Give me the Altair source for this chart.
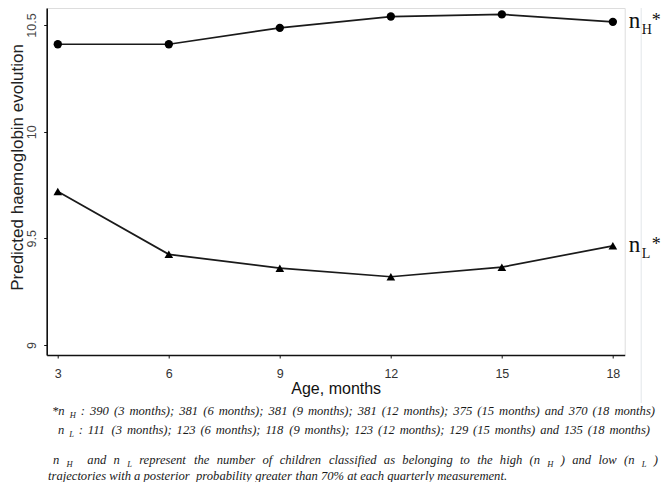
import altair as alt
import pandas as pd

# ---- data ----
months = [3, 6, 9, 12, 15, 18]
high_hb = [10.41, 10.41, 10.487, 10.54, 10.55, 10.515]
low_hb = [9.72, 9.425, 9.36, 9.32, 9.365, 9.465]
y_ticks = [9, 9.5, 10, 10.5]

df = pd.DataFrame({
    "age": months * 2,
    "hb": high_hb + low_hb,
    "group": ["high"] * len(months) + ["low"] * len(months),
})
df_high = df[df.group == "high"]
df_low = df[df.group == "low"]

W, H = 578, 347
PAD_L, PAD_T = 38.7, 0
XDOM = [2.7, 18.32]
YDOM = [8.953, 10.58]

x = alt.X("age:Q", scale=alt.Scale(domain=XDOM, nice=False, zero=False),
          axis=alt.Axis(values=months, title="Age, months", grid=False,
                        domainColor="#111111", domainWidth=1.6,
                        tickColor="#111111", tickSize=3, tickWidth=1,
                        labelFont="Liberation Sans", labelFontSize=12.5,
                        labelColor="#333333", labelPadding=9,
                        titleFont="Liberation Sans", titleFontSize=16,
                        titleFontWeight="normal", titleColor="#111111",
                        titlePadding=1))
y = alt.Y("hb:Q", scale=alt.Scale(domain=YDOM, nice=False, zero=False),
          axis=alt.Axis(values=y_ticks, format="~g", title="Predicted haemoglobin evolution",
                        grid=False, domainColor="#111111", domainWidth=1.6,
                        tickColor="#111111", tickSize=3, tickWidth=1,
                        labelFont="Liberation Sans", labelFontSize=12.5,
                        labelColor="#444444", labelAngle=270,
                        labelAlign="center", labelBaseline="bottom",
                        labelPadding=5,
                        titleFont="Liberation Sans", titleFontSize=17,
                        titleFontWeight="normal", titleColor="#222222",
                        titleAngle=270, titleAlign="center", titleBaseline="bottom",
                        titleX=-20, titleY=159))

base = alt.Chart(df)
line = base.mark_line(color="#1a1a1a", strokeWidth=1.7).encode(
    x=x, y=y, detail="group:N")
pts_h = alt.Chart(df_high).mark_point(shape="circle", filled=True, opacity=1,
                                       color="#000000", size=70).encode(x="age:Q", y="hb:Q")
pts_l = alt.Chart(df_low).mark_point(shape="triangle-up", filled=True, opacity=1,
                                      color="#000000", size=75).encode(x="age:Q", y="hb:Q")

# ---- right-hand series labels n_H*, n_L* ----
last_h = df_high.tail(1)
last_l = df_low.tail(1)
lab = []
for d, sub in ((last_h, "H"), (last_l, "L")):
    c = alt.Chart(d)
    lab.append(c.mark_text(text="n", font="Liberation Serif", fontSize=23,
                           align="left", baseline="alphabetic", dx=16, dy=6,
                           color="#111111").encode(x="age:Q", y="hb:Q"))
    lab.append(c.mark_text(text=sub, font="Liberation Serif", fontSize=14,
                           align="left", baseline="alphabetic", dx=29, dy=12,
                           color="#111111").encode(x="age:Q", y="hb:Q"))
    lab.append(c.mark_text(text="*", font="Liberation Serif", fontSize=18,
                           align="left", baseline="alphabetic", dx=39, dy=4,
                           color="#111111").encode(x="age:Q", y="hb:Q"))

# faint vertical separator line at right
sep = alt.Chart(pd.DataFrame({"a": [0]})).mark_rule(color="#e3e6ea", strokeWidth=1).encode(
    x=alt.value(594.5), y=alt.value(-10), y2=alt.value(395))

# ---- footnotes (italic serif, justified, with subscripts) ----
TI = {" ": 250, "(": 333, ")": 333, "*": 500, ",": 250, ".": 250, ":": 333,
      ";": 333, "%": 833, "H": 722, "L": 556, "a": 500, "b": 500, "c": 444,
      "d": 500, "e": 444, "f": 278, "g": 500, "h": 500, "i": 278, "j": 278,
      "k": 444, "l": 278, "m": 722, "n": 500, "o": 500, "p": 500, "q": 500,
      "r": 389, "s": 389, "t": 278, "u": 500, "v": 444, "w": 667, "x": 444,
      "y": 444, "z": 389}


def em(s):
    return sum(TI.get(ch, 500) for ch in s) / 1000.0


line1 = [("*n ", 0), ("H", 1), (" : 390 (3 months); 381 (6 months); 381 (9 months); 381 (12 months); 375 (15 months) and 370 (18 months)", 0)]
line2 = [("n ", 0), ("L", 1), (" : 111 (3 months); 123 (6 months); 118 (9 months); 123 (12 months); 129 (15 months) and 135 (18 months)", 0)]
line3 = [("n ", 0), ("H", 1), ("  and n ", 0), ("L", 1), (" represent the number of children classified as belonging to the high (n ", 0),
         ("H", 1), (" ) and low (n ", 0), ("L", 1), (" )", 0)]
line4 = [("trajectories with a posterior  probability greater than 70% at each quarterly measurement.", 0)]

FS = 12.6
SUB = 8.5
# (segments, x start, x end (None = not justified), baseline y) in page pixels
foot_lines = [(line1, 52, 655, 415), (line2, 58, 650, 434), (line3, 53, 658, 464), (line4, 48, None, 480)]

notes = []
for segs, x0, x1, yb in foot_lines:
    items = []  # (kind, text, is_sub)
    for txt, is_sub in segs:
        if is_sub:
            items.append(("w", txt, 1))
        else:
            parts = txt.split(" ")
            for i, p in enumerate(parts):
                if i > 0:
                    items.append(("g", " ", 0))
                if p:
                    items.append(("w", p, 0))
    nat = sum(em(t) * (SUB if s else FS) for k, t, s in items)
    gaps = sum(1 for k, t, s in items if k == "g")
    extra = 0.0 if x1 is None else (x1 - x0 - nat) / max(gaps, 1)
    cx = x0
    for k, t, s in items:
        fs = SUB if s else FS
        if k == "g":
            cx += em(" ") * FS + extra
            continue
        notes.append(alt.Chart(pd.DataFrame({"a": [0]})).mark_text(
            text=t, font="Liberation Serif", fontStyle="italic",
            fontSize=fs, align="left", baseline="alphabetic", color="#1a1a1a").encode(
            x=alt.value(cx - 8 - PAD_L), y=alt.value(yb + (3 if s else 0) - 8 - PAD_T)))
        cx += em(t) * fs

chart = alt.layer(line, pts_h, pts_l, sep, *lab, *notes).properties(
    width=W, height=H,
    autosize=alt.AutoSizeParams(type="none"),
    padding={"left": PAD_L, "top": PAD_T, "right": 656 - PAD_L - W, "bottom": 474 - H},
).configure_view(stroke=None).configure(background="white")

chart.save("out.html", embed_options={"renderer": "svg", "actions": False})
